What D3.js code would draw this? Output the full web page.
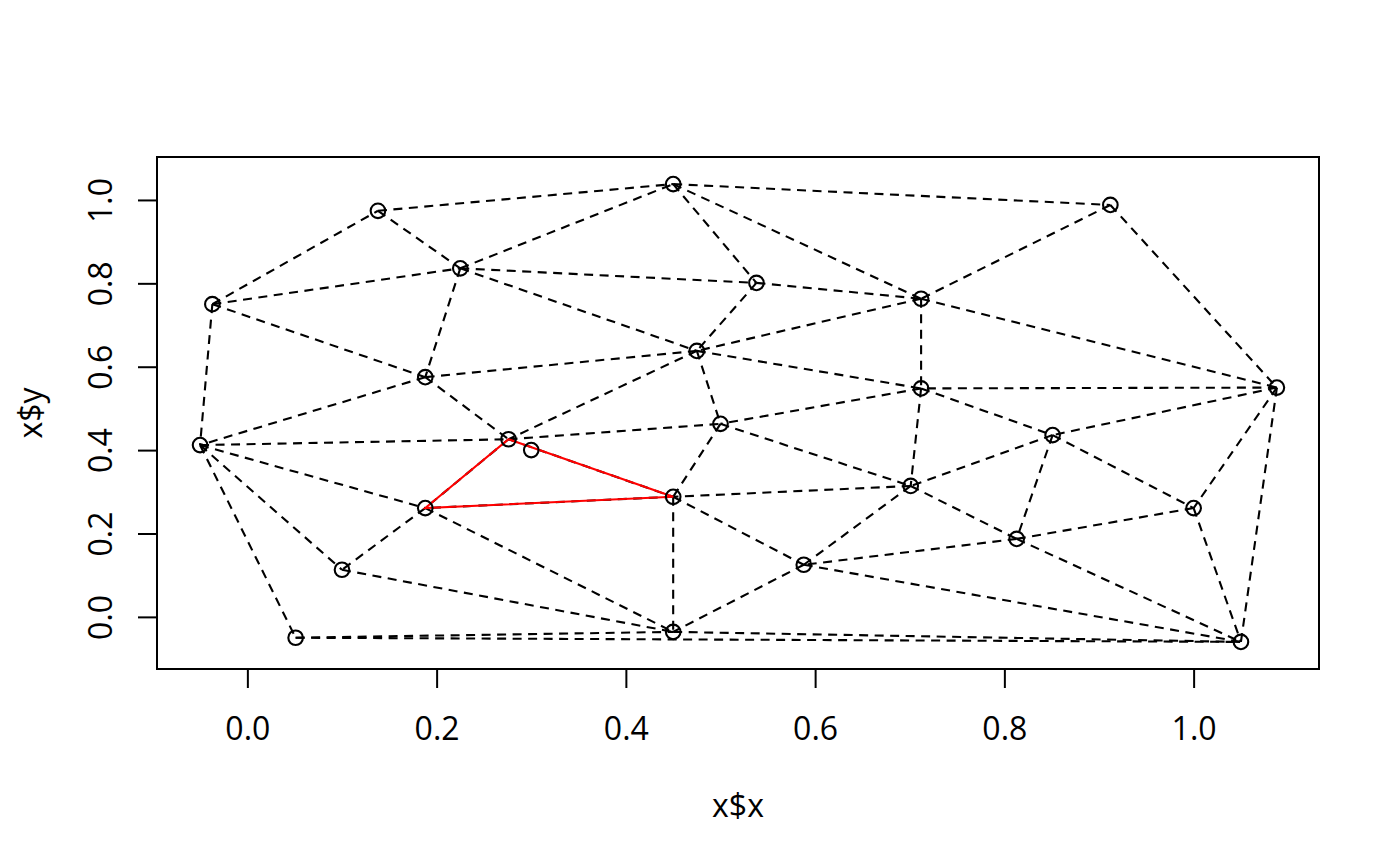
<!DOCTYPE html>
<html>
<head>
<meta charset="utf-8">
<script src="https://cdn.jsdelivr.net/npm/d3@7"></script>
<style>
  html, body { margin: 0; padding: 0; background: #fff; }
  svg { display: block; }
  text { font-family: "Open Sans", "Noto Sans", sans-serif; fill: #000; }
</style>
</head>
<body>
<svg id="chart" width="1400" height="866"></svg>
<script>
// Triangulation nodes
const nodeX = [-0.037, 0.138, 0.225, 0.450, 0.912, 0.538, 0.712, 0.475, 0.188, 1.088,
               0.712, -0.050, 0.276, 0.500, 0.851, 0.701, 0.450, 0.188, 1.000, 0.813,
               0.100, 0.588, 0.051, 0.450, 1.050];
const nodeY = [0.750, 0.974, 0.836, 1.038, 0.988, 0.801, 0.763, 0.638, 0.575, 0.550,
               0.548, 0.412, 0.426, 0.463, 0.436, 0.314, 0.288, 0.261, 0.261, 0.187,
               0.113, 0.125, -0.050, -0.036, -0.060];
// Triangulation edges (node index pairs, 0-based)
const edgeFrom = [0,0,0,0, 1,1, 2,2,2,2, 3,3,3, 4,4, 5,5, 6,6,6, 7,7,7,7, 8,8,
                  9,9,9,9, 10,10,10, 11,11,11,11, 12,12,12, 13,13, 14,14,14,
                  15,15,15, 16,16,16, 17,17, 18,18, 19,19, 20,20, 21,21, 22,22, 23];
const edgeTo   = [1,2,8,11, 2,3, 3,5,7,8, 4,5,6, 6,9, 6,7, 7,9,10, 8,10,12,13, 11,12,
                  10,14,18,24, 13,14,15, 12,17,20,22, 13,16,17, 15,16, 15,18,19,
                  16,19,21, 17,21,23, 20,23, 19,24, 21,24, 20,23, 23,24, 23,24, 24];
// Query point and the triangle that contains it
const queryX = [0.300];
const queryY = [0.400];
const foundTriangle = [12, 16, 17];

const xTicks = [0.0, 0.2, 0.4, 0.6, 0.8, 1.0];
const yTicks = [0.0, 0.2, 0.4, 0.6, 0.8, 1.0];
const xLabel = "x$x";
const yLabel = "x$y";

const pL = 157, pR = 1319, pT = 157, pB = 669;
const x = d3.scaleLinear().domain([-0.0955, 1.1325]).range([pL, pR]);
const y = d3.scaleLinear().domain([-0.125, 1.103]).range([pB, pT]);

const svg = d3.select("#chart");
const fs = 32;

// Edges (dashed)
svg.append("g").selectAll("line").data(edgeFrom).join("line")
  .attr("x1", (d) => x(nodeX[d])).attr("y1", (d) => y(nodeY[d]))
  .attr("x2", (d, i) => x(nodeX[edgeTo[i]])).attr("y2", (d, i) => y(nodeY[edgeTo[i]]))
  .attr("stroke", "#000").attr("stroke-width", 2.1)
  .attr("stroke-dasharray", "9,6.5");

// Found triangle in red
const triPts = foundTriangle.map(i => [x(nodeX[i]), y(nodeY[i])]);
svg.append("path")
  .attr("d", d3.line()(triPts) + "Z")
  .attr("fill", "none").attr("stroke", "#ff0000").attr("stroke-width", 2.1);

// Nodes
svg.append("g").selectAll("circle").data(nodeX).join("circle")
  .attr("cx", (d) => x(d)).attr("cy", (d, i) => y(nodeY[i])).attr("r", 7.3)
  .attr("fill", "none").attr("stroke", "#000").attr("stroke-width", 2.1);

// Query point
svg.append("g").selectAll("circle").data(queryX).join("circle")
  .attr("cx", (d) => x(d)).attr("cy", (d, i) => y(queryY[i])).attr("r", 7.3)
  .attr("fill", "none").attr("stroke", "#000").attr("stroke-width", 2.1);

// Box
svg.append("rect").attr("x", pL).attr("y", pT)
  .attr("width", pR - pL).attr("height", pB - pT)
  .attr("fill", "none").attr("stroke", "#000").attr("stroke-width", 2);

// X axis
const xa = svg.append("g").attr("transform", `translate(0,${pB})`)
  .call(d3.axisBottom(x).tickValues(xTicks).tickFormat(d3.format(".1f")).tickSize(19).tickPadding(0));
xa.select(".domain").remove();
xa.selectAll("line").attr("stroke", "#000").attr("stroke-width", 2);
xa.selectAll("text").attr("font-size", fs).attr("font-family", "Open Sans")
  .attr("dy", null).attr("y", 71).attr("fill", "#000");

// Y axis
const ya = svg.append("g").attr("transform", `translate(${pL},0)`)
  .call(d3.axisLeft(y).tickValues(yTicks).tickFormat(d3.format(".1f")).tickSize(19).tickPadding(0));
ya.select(".domain").remove();
ya.selectAll("line").attr("stroke", "#000").attr("stroke-width", 2);
ya.selectAll("text").attr("font-size", fs).attr("font-family", "Open Sans")
  .attr("x", null).attr("dy", null).attr("text-anchor", "middle")
  .attr("transform", "translate(-45,0) rotate(-90)").attr("fill", "#000");

// Axis titles
svg.append("text").attr("x", (pL + pR) / 2).attr("y", 817)
  .attr("text-anchor", "middle").attr("font-size", fs).text(xLabel);
svg.append("text")
  .attr("transform", `translate(42,${(pT + pB) / 2}) rotate(-90)`)
  .attr("text-anchor", "middle").attr("font-size", fs).text(yLabel);
</script>
</body>
</html>
